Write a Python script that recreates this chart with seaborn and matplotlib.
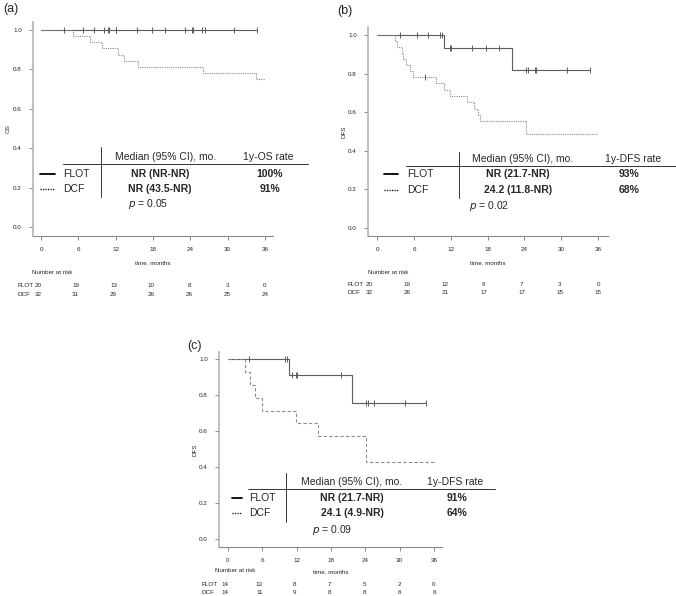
import numpy as np
import pandas as pd
import matplotlib
matplotlib.use("Agg")
import matplotlib.pyplot as plt
from matplotlib.lines import Line2D
from matplotlib.transforms import blended_transform_factory
import seaborn as sns

sns.set_style("ticks")
plt.rcParams['font.family'] = ['Liberation Sans', 'DejaVu Sans']

W, H = 676, 596

# ---- data ----
months = [0, 6, 12, 18, 24, 30, 36]

# (a) OS
a_flot_t = [0, 34.7]
a_flot_s = [1.0, 1.0]
a_flot_cens = [3.75, 6.8, 8.5, 10.2, 10.7, 10.9, 12.0, 12.1, 15.4, 17.8, 19.9,
               23.2, 24.3, 24.5, 25.9, 26.3, 31.1, 34.7]
a_flot_cens_s = [1.0] * len(a_flot_cens)
a_dcf_t = [0, 5.2, 7.9, 9.75, 12.3, 13.3, 15.6, 26.1, 34.5, 36]
a_dcf_s = [1.0, 0.969, 0.938, 0.906, 0.875, 0.844, 0.813, 0.781, 0.75, 0.75]
a_risk_flot = [20, 19, 13, 10, 8, 3, 0]
a_risk_dcf = [32, 31, 29, 26, 26, 25, 24]

# (b) DFS
b_flot_t = [0, 10.9, 21.9, 34.7]
b_flot_s = [1.0, 0.933, 0.816, 0.816]
b_flot_cens = [3.75, 6.5, 8.3, 10.3, 10.5, 11.9, 12.1, 15.4, 17.8, 19.8,
               24.3, 24.5, 25.7, 25.9, 30.9, 34.7]
b_flot_cens_s = [1.0] * 5 + [0.933] * 5 + [0.816] * 6
b_dcf_t = [0, 2.9, 3.2, 4.0, 4.3, 4.7, 5.3, 5.9, 9.6, 10.9, 11.9, 14.7, 15.8,
           16.4, 16.7, 24.2, 36]
b_dcf_s = [1.0, 0.969, 0.938, 0.906, 0.875, 0.844, 0.813, 0.781, 0.749, 0.716,
           0.684, 0.651, 0.619, 0.586, 0.553, 0.488, 0.488]
b_dcf_cens = [7.8]
b_dcf_cens_s = [0.781]
b_risk_flot = [20, 19, 12, 9, 7, 3, 0]
b_risk_dcf = [32, 26, 21, 17, 17, 15, 15]

# (c) DFS subgroup
c_flot_t = [0, 10.7, 21.7, 34.6]
c_flot_s = [1.0, 0.909, 0.758, 0.758]
c_flot_cens = [3.6, 10.0, 10.3, 11.2, 11.9, 12.0, 19.7, 24.2, 24.4, 25.6, 31.0, 34.6]
c_flot_cens_s = [1.0] * 3 + [0.909] * 4 + [0.758] * 5
c_dcf_t = [0, 2.9, 3.9, 4.8, 5.9, 11.8, 15.7, 24.1, 36]
c_dcf_s = [1.0, 0.929, 0.857, 0.786, 0.714, 0.643, 0.571, 0.429, 0.429]
c_risk_flot = [14, 13, 8, 7, 5, 2, 0]
c_risk_dcf = [14, 11, 9, 8, 8, 6, 6]

FLOT_C = "#5c5c5c"
DCF_C = "#8c8c8c"

fig = plt.figure(figsize=(W / 100, H / 100), dpi=100)


def P(x, y):
    return x / W, 1 - y / H


def km_panel(box, xlim, ylim, ylabel, flot_t, flot_s, cens, cens_s,
             dcf_t, dcf_s, dcf_dash, dcf_cens=None, dcf_cens_s=None):
    l, t, r, b = box
    ax = fig.add_axes([l / W, 1 - b / H, (r - l) / W, (b - t) / H])
    df = pd.concat([
        pd.DataFrame({'time': flot_t, 'surv': flot_s, 'arm': 'FLOT'}),
        pd.DataFrame({'time': dcf_t, 'surv': dcf_s, 'arm': 'DCF'}),
    ])
    sns.lineplot(data=df, x='time', y='surv', hue='arm', style='arm',
                 palette={'FLOT': FLOT_C, 'DCF': DCF_C},
                 dashes={'FLOT': '', 'DCF': dcf_dash},
                 estimator=None, sort=False, drawstyle='steps-post',
                 linewidth=0.8, legend=False, ax=ax)
    sns.scatterplot(x=cens, y=cens_s, marker='|', s=22, color=FLOT_C,
                    linewidth=0.7, ax=ax, zorder=3)
    if dcf_cens:
        sns.scatterplot(x=dcf_cens, y=dcf_cens_s, marker='|', s=22, color=FLOT_C,
                        linewidth=0.7, ax=ax, zorder=3)
    ax.set_xlim(*xlim)
    ax.set_ylim(*ylim)
    ax.set_xticks(months)
    ax.set_yticks([0, 0.2, 0.4, 0.6, 0.8, 1.0])
    ax.set_yticklabels(['0.0', '0.2', '0.4', '0.6', '0.8', '1.0'])
    ax.set_xlabel('')
    ax.set_ylabel(ylabel, fontsize=4.5, labelpad=1.5)
    ax.tick_params(labelsize=4.5, length=3, width=0.6, color='#777777', pad=5)
    for s in ['top', 'right']:
        ax.spines[s].set_visible(False)
    ax.spines['left'].set_color('#b5b5b5')
    ax.spines['left'].set_linewidth(1.2)
    ax.spines['bottom'].set_color('#8a8a8a')
    ax.spines['bottom'].set_linewidth(0.8)
    return ax


def risk_table(ax, y_xlab, y_num, y_flot, y_dcf, x_num, x_lab, first_x, flot, dcf):
    tr = blended_transform_factory(ax.transData, fig.transFigure)
    ax.text(18, 1 - y_xlab / H, 'time, months', transform=tr, fontsize=4.5,
            ha='center', va='center')
    fig.text(*P(x_num, y_num), 'Number at risk', fontsize=4.5, va='center')
    fig.text(*P(x_lab, y_flot), 'FLOT', fontsize=4.6, va='center')
    fig.text(*P(x_lab, y_dcf), 'DCF', fontsize=4.6, va='center')
    # the risk counts run from just left of 0 up to 36 months
    xs = np.linspace(first_x, 36, len(months))
    for xp, f, d in zip(xs, flot, dcf):
        ax.text(xp, 1 - y_flot / H, str(f), transform=tr, fontsize=4.5,
                ha='center', va='center')
        ax.text(xp, 1 - y_dcf / H, str(d), transform=tr, fontsize=4.5,
                ha='center', va='center')


def summary_table(pos, header2, rows, pval):
    # pos: pixel positions of the in-plot summary table
    vx, vy0, vy1 = pos['vline']
    fig.add_artist(Line2D([vx / W, vx / W], [1 - vy0 / H, 1 - vy1 / H],
                          transform=fig.transFigure, color='#333333', lw=0.7))
    hx0, hx1, hy = pos['hline']
    fig.add_artist(Line2D([hx0 / W, hx1 / W], [1 - hy / H, 1 - hy / H],
                          transform=fig.transFigure, color='#333333', lw=0.7))
    fs = 7.5
    fig.text(*P(pos['c1'], pos['yh']), 'Median (95% CI), mo.', fontsize=fs,
             ha='center', va='center')
    fig.text(*P(pos['c2'], pos['yh']), header2, fontsize=fs, ha='center', va='center')
    lx0, lx1 = pos['leg']
    for (name, med, rate), y, ls in zip(rows, pos['rows'], ['-', (0, (1, 1))]):
        fig.add_artist(Line2D([lx0 / W, lx1 / W], [1 - y / H, 1 - y / H],
                              transform=fig.transFigure, color='black',
                              lw=1.3 if ls == '-' else 0.9, linestyle=ls))
        fig.text(*P(pos['lab'], y), name, fontsize=fs, va='center')
        fig.text(*P(pos['c1b'], y), med, fontsize=fs, fontweight='bold',
                 ha='center', va='center')
        fig.text(*P(pos['c2b'], y), rate, fontsize=fs, fontweight='bold',
                 ha='center', va='center')
    fig.text(*P(pos['p'], pos['yp']), r'$\it{p}$ = ' + pval, fontsize=fs, va='center')


# ---- panel (a) ----
ax_a = km_panel((33, 22, 273, 236), (-1.29, 37.3), (-0.046, 1.04), 'OS',
                a_flot_t, a_flot_s, a_flot_cens, a_flot_cens_s,
                a_dcf_t, a_dcf_s, (1, 1))
risk_table(ax_a, 263, 272, 286, 294, 32, 17, -0.5, a_risk_flot, a_risk_dcf)
summary_table(dict(vline=(101, 147, 197), hline=(63, 308, 164), yh=157,
                   c1=166, c2=268, rows=(174, 189), leg=(40, 55), lab=63,
                   c1b=160, c2b=270, p=128, yp=204),
              '1y-OS rate',
              [('FLOT', 'NR (NR-NR)', '100%'), ('DCF', 'NR (43.5-NR)', '91%')], '0.05')
fig.text(*P(3, 9), '(a)', fontsize=9, va='center')

# ---- panel (b) ----
ax_b = km_panel((368, 27, 608, 236), (-1.47, 37.6), (-0.041, 1.041), 'DFS',
                b_flot_t, b_flot_s, b_flot_cens, b_flot_cens_s,
                b_dcf_t, b_dcf_s, (1, 1), b_dcf_cens, b_dcf_cens_s)
risk_table(ax_b, 263, 272, 285, 293, 368, 347, -1.3, b_risk_flot, b_risk_dcf)
summary_table(dict(vline=(459, 152, 198), hline=(406, 676, 166), yh=159,
                   c1=523, c2=633, rows=(174, 190), leg=(384, 398), lab=407,
                   c1b=518, c2b=629, p=469, yp=206),
              '1y-DFS rate',
              [('FLOT', 'NR (21.7-NR)', '93%'), ('DCF', '24.2 (11.8-NR)', '68%')], '0.02')
fig.text(*P(337, 11), '(b)', fontsize=9, va='center')

# ---- panel (c) ----
ax_c = km_panel((219, 352, 442, 547), (-1.57, 37.4), (-0.044, 1.039), 'DFS',
                c_flot_t, c_flot_s, c_flot_cens, c_flot_cens_s,
                c_dcf_t, c_dcf_s, (3, 2))
risk_table(ax_c, 572, 570, 585, 593, 215, 201, -0.6, c_risk_flot, c_risk_dcf)
summary_table(dict(vline=(286, 473, 522), hline=(248, 495, 489), yh=482,
                   c1=352, c2=455, rows=(498, 513), leg=(232, 242), lab=249,
                   c1b=352, c2b=457, p=312, yp=530),
              '1y-DFS rate',
              [('FLOT', 'NR (21.7-NR)', '91%'), ('DCF', '24.1 (4.9-NR)', '64%')], '0.09')
fig.text(*P(187, 346), '(c)', fontsize=9, va='center')

fig.savefig("out.png", dpi=100)
